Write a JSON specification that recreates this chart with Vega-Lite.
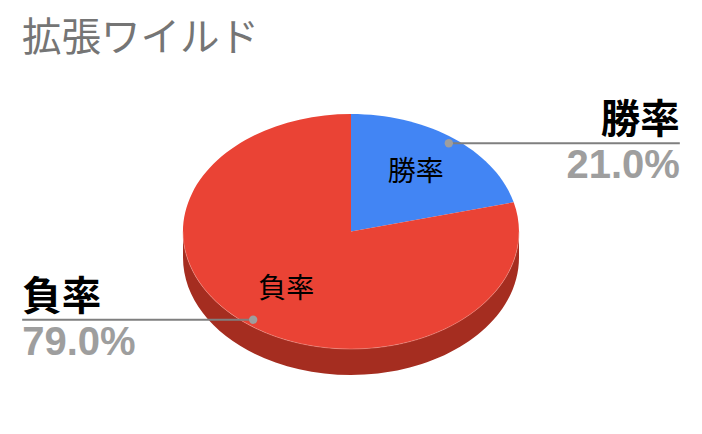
{
  "$schema": "https://vega.github.io/schema/vega-lite/v6.json",
  "width": 702,
  "height": 434,
  "padding": 0,
  "autosize": "none",
  "background": "#ffffff",
  "title": {
    "text": "拡張ワイルド",
    "anchor": "start",
    "frame": "group",
    "font": "Noto Sans CJK JP",
    "fontSize": 39.5,
    "fontWeight": "normal",
    "color": "#757575",
    "baseline": "alphabetic",
    "offset": 0,
    "dx": 22,
    "dy": 90
  },
  "config": {"view": {"stroke": null}},
  "data": {
    "values": [
      {"category": "勝率", "value": 21.0},
      {"category": "負率", "value": 79.0}
    ]
  },
  "transform": [
    {"stack": "value", "groupby": [], "as": ["v0", "v1"], "sort": [{"field": "category", "order": "ascending"}]},
    {"calculate": "(datum.v0 + datum.v1) / 200 * 2 * PI", "as": "mid"},
    {"calculate": "sin(datum.mid) * 168", "as": "rx"},
    {"calculate": "-cos(datum.mid) * 117.5", "as": "ry"},
    {"calculate": "datum.rx * 0.95", "as": "dotX"},
    {"calculate": "datum.ry * 0.95", "as": "dotY"},
    {"calculate": "datum.rx * 0.63", "as": "insideX"},
    {"calculate": "datum.ry * 0.63", "as": "insideY"},
    {"calculate": "datum.dotX + (datum.dotX > 0 ? 231 : -231)", "as": "endX"},
    {"calculate": "format(datum.value, '.1f') + '%'", "as": "pct"},
    {"calculate": "0", "as": "center"}
  ],
  "encoding": {
    "x": {"field": "center", "type": "quantitative", "axis": null, "scale": {"domain": [-351, 351], "nice": false, "zero": false}},
    "y": {"field": "center", "type": "quantitative", "axis": null, "scale": {"domain": [202.5, -231.5], "nice": false, "zero": false}}
  },
  "layer": [
    {
      "transform": [{"filter": "datum.category === '負率'"}],
      "mark": {
        "type": "point",
        "filled": true,
        "opacity": 1,
        "size": 4,
        "color": "#a52d20",
        "shape": "M-168 0L-168 26A168 117.5 0 0 0 168 26L168 0A168 117.5 0 0 1 -168 0Z"
      }
    },
    {
      "mark": {"type": "point", "filled": true, "opacity": 1, "size": 4},
      "encoding": {
        "shape": {
          "field": "category",
          "type": "nominal",
          "legend": null,
          "scale": {
            "domain": ["勝率", "負率"],
            "range": [
              "M0 0L0 -117.5A168 117.5 0 0 1 162.7 -29.2Z",
              "M0 0L162.7 -29.2A168 117.5 0 1 1 0 -117.5Z"
            ]
          }
        },
        "color": {
          "field": "category",
          "type": "nominal",
          "legend": null,
          "scale": {"domain": ["勝率", "負率"], "range": ["#4285f4", "#ea4335"]}
        }
      }
    },
    {
      "transform": [{"filter": "datum.category === '負率'"}],
      "mark": {
        "type": "point",
        "filled": false,
        "opacity": 1,
        "size": 4,
        "color": "#f19a90",
        "strokeWidth": 0.5,
        "shape": "M-168 0A168 117.5 0 0 0 168 0"
      }
    },
    {
      "mark": {"type": "text", "font": "Noto Sans CJK JP", "fontSize": 28, "color": "#000000", "align": "center", "baseline": "middle"},
      "encoding": {
        "x": {"field": "insideX", "type": "quantitative"},
        "y": {"field": "insideY", "type": "quantitative"},
        "text": {"field": "category"}
      }
    },
    {
      "mark": {"type": "rule", "color": "#7f7f7f", "strokeWidth": 2},
      "encoding": {
        "x": {"field": "dotX", "type": "quantitative"},
        "x2": {"field": "endX"},
        "y": {"field": "dotY", "type": "quantitative"}
      }
    },
    {
      "mark": {"type": "point", "filled": true, "opacity": 1, "size": 70, "shape": "circle", "color": "#9e9e9e"},
      "encoding": {
        "x": {"field": "dotX", "type": "quantitative"},
        "y": {"field": "dotY", "type": "quantitative"}
      }
    },
    {
      "mark": {
        "type": "text",
        "font": "Noto Sans CJK JP",
        "fontSize": 39.5,
        "fontWeight": "bold",
        "color": "#000000",
        "baseline": "alphabetic",
        "dy": -10,
        "align": {"expr": "datum.endX > 0 ? 'right' : 'left'"}
      },
      "encoding": {
        "x": {"field": "endX", "type": "quantitative"},
        "y": {"field": "dotY", "type": "quantitative"},
        "text": {"field": "category"}
      }
    },
    {
      "mark": {
        "type": "text",
        "font": "Liberation Sans",
        "fontSize": 40,
        "fontWeight": "bold",
        "color": "#9e9e9e",
        "baseline": "alphabetic",
        "dy": 35,
        "align": {"expr": "datum.endX > 0 ? 'right' : 'left'"}
      },
      "encoding": {
        "x": {"field": "endX", "type": "quantitative"},
        "y": {"field": "dotY", "type": "quantitative"},
        "text": {"field": "pct"}
      }
    }
  ]
}
